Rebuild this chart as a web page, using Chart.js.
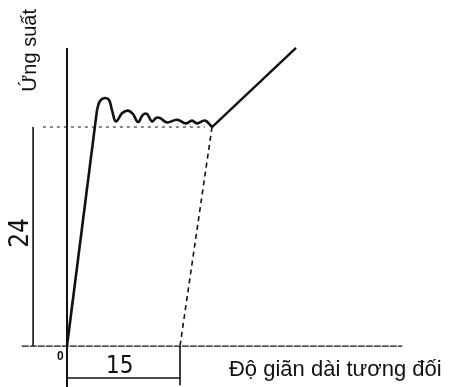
<!DOCTYPE html>
<html>
<head>
<meta charset="utf-8">
<script src="https://cdn.jsdelivr.net/npm/chart.js@4"></script>
<style>
    body { margin: 0; background: #fff; }
</style>
</head>
<body>
<canvas id="chart" width="454" height="387"></canvas>
<script>
// stress-strain curve, values (strain units, stress units)
const riseX = [0, 3.98];
const riseY = [0, 25.86];
const waveX = [3.98, 4.38, 5.04, 5.58, 5.97, 6.5, 7.3, 8.1, 8.76, 9.43, 10.09, 10.62, 11.28, 11.81, 12.35, 13.27, 14.6, 15.8, 16.59, 17.26, 18.32, 19.25];
const waveY = [25.86, 26.85, 27.18, 26.96, 25.86, 24.6, 25.5, 25.8, 25.42, 24.55, 25.35, 25.42, 24.6, 24.99, 24.99, 24.5, 24.8, 24.4, 24.7, 24.4, 24.7, 24.0];
const hardenX = [19.25, 30.4];
const hardenY = [24.0, 32.66];

// unloading (dashed) line and yield level
const unloadX = [19.25, 15];
const unloadY = [24, 0];
const yieldX = [-3.2, 18.3];
const yieldY = [24, 24];

// axes
const axisYX = [0, 0];
const axisYY = [-4.6, 32.66];
const axisXX = [-6, 44.5];
const axisXY = [0, 0];

// dimension marks
const dimStressX = [-4.5, -4.5];
const dimStressY = [0, 24];
const dimStrainX = [0, 15];
const dimStrainY = [-3.5, -3.5];
const dimTickX = [15, 15];
const dimTickY = [0, -4.3];

// texts
const yTitle = 'Ứng suất';
const xTitle = 'Độ giãn dài tương đối';
const stressLabel = '24';
const strainLabel = '15';
const originLabel = '0';

function pts(xs, ys) {
    return xs.map((x, i) => ({ x: x, y: ys[i] }));
}

function line(xs, ys, width, dash, tension) {
    return {
        data: pts(xs, ys),
        showLine: true,
        borderColor: '#111',
        borderWidth: width,
        borderDash: dash || [],
        pointRadius: 0,
        tension: tension || 0,
        fill: false
    };
}

const textPlugin = {
    id: 'texts',
    afterDatasetsDraw(chart) {
        const ctx = chart.ctx;
        const sx = chart.scales.x;
        const sy = chart.scales.y;
        ctx.save();
        ctx.fillStyle = '#111';
        ctx.textAlign = 'center';
        ctx.textBaseline = 'middle';

        // rotated y title
        ctx.save();
        ctx.translate(sx.getPixelForValue(-4.9), sy.getPixelForValue(32.4));
        ctx.rotate(-Math.PI / 2);
        ctx.font = '20px "Liberation Sans", Arial, sans-serif';
        ctx.fillText(yTitle, 0, 0);
        ctx.restore();

        // rotated "24"
        ctx.save();
        ctx.translate(sx.getPixelForValue(-6.1), sy.getPixelForValue(12.4));
        ctx.rotate(-Math.PI / 2);
        ctx.font = '26px "Liberation Sans Narrow", "DejaVu Sans Condensed", sans-serif';
        ctx.fillText(stressLabel, 0, 0);
        ctx.restore();

        ctx.font = '24px "Liberation Sans Narrow", "DejaVu Sans Condensed", sans-serif';
        ctx.fillText(strainLabel, sx.getPixelForValue(7.0), sy.getPixelForValue(-2.3));

        ctx.font = 'bold 12px "Liberation Sans", Arial, sans-serif';
        ctx.fillText(originLabel, sx.getPixelForValue(-0.9), sy.getPixelForValue(-1.2));

        ctx.textAlign = 'left';
        ctx.font = '22px "Liberation Sans", Arial, sans-serif';
        ctx.fillText(xTitle, sx.getPixelForValue(21.5), sy.getPixelForValue(-2.6));
        ctx.restore();
    }
};

new Chart(document.getElementById('chart'), {
    type: 'scatter',
    data: {
        datasets: [
            line(axisYX, axisYY, 2),
            line(axisXX, axisXY, 1.3, [7, 1]),
            line(yieldX, yieldY, 1, [3, 4]),
            line(unloadX, unloadY, 1.6, [5, 4]),
            line(dimStressX, dimStressY, 1.6),
            line(dimStrainX, dimStrainY, 1.6),
            line(dimTickX, dimTickY, 1.6),
            line(riseX, riseY, 2.6),
            line(waveX, waveY, 2.6, null, 0.4),
            line(hardenX, hardenY, 2.4)
        ]
    },
    options: {
        responsive: false,
        animation: false,
        layout: { padding: 0 },
        plugins: {
            legend: { display: false },
            tooltip: { enabled: false }
        },
        scales: {
            x: { type: 'linear', display: false, min: -8.894, max: 51.37 },
            y: { type: 'linear', display: false, min: -4.49, max: 37.92 }
        }
    },
    plugins: [textPlugin]
});
</script>
</body>
</html>
